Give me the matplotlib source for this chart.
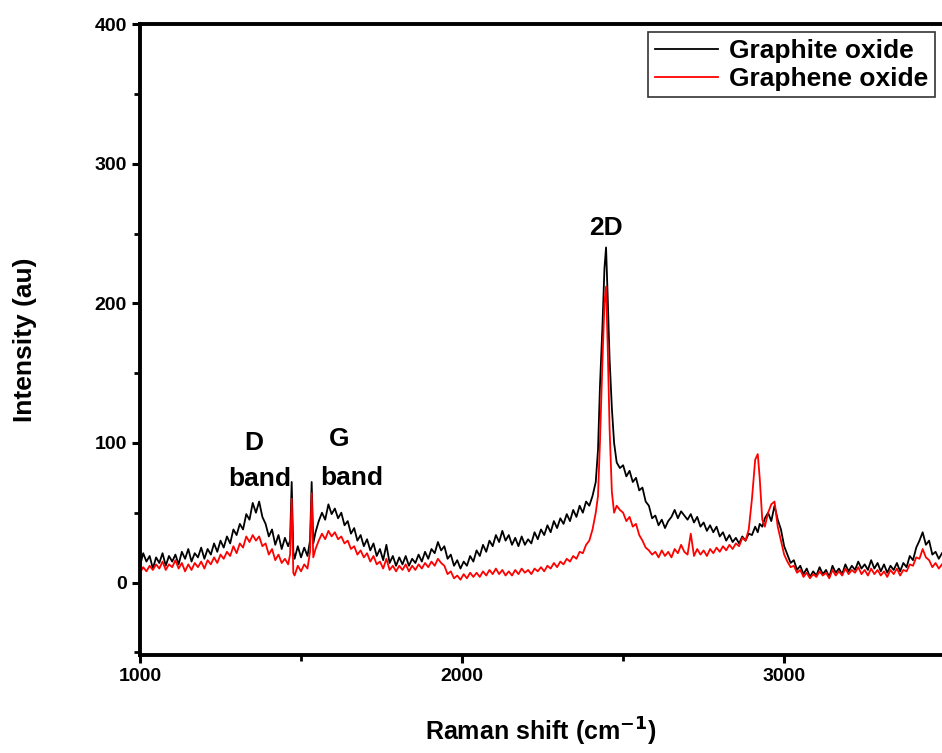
import numpy as np
import matplotlib
matplotlib.use("Agg")
import matplotlib.pyplot as plt
from matplotlib.ticker import MultipleLocator

plt.rcParams['font.family'] = ['Liberation Sans', 'DejaVu Sans']

# Raman shift (cm-1) grid
# (finer steps near the sharp peaks)
shift = (list(range(1000, 1461, 10))
         + [1466, 1471, 1476, 1480, 1490, 1500, 1510, 1520, 1528, 1533, 1538]
         + list(range(1545, 2416, 10))
         + [2422, 2428, 2436, 2442, 2447, 2452, 2458, 2465, 2472, 2480, 2490]
         + list(range(2500, 2891, 10))
         + [2900, 2910, 2918, 2924, 2932, 2940, 2950, 2960]
         + list(range(2970, 3491, 10)))

graphite_oxide = [
    12, 21, 15, 19, 10, 18, 14, 21, 12, 19,
    15, 20, 13, 22, 17, 24, 15, 21, 18, 25,
    17, 24, 20, 28, 22, 30, 25, 33, 28, 38,
    34, 42, 38, 49, 45, 57, 50, 58, 47, 42,
    33, 38, 27, 34, 24, 32, 26,
    30, 72, 22, 17, 26, 18, 25, 19, 30, 72, 28,
    36, 44, 50, 45, 56, 49, 53, 46, 50, 41,
    44, 35, 39, 30, 34, 26, 31, 23, 28, 19,
    24, 16, 27, 14, 19, 12, 18, 13, 19, 12,
    17, 14, 20, 15, 22, 17, 24, 21, 29, 23,
    26, 17, 20, 12, 16, 10, 15, 12, 19, 15,
    23, 19, 27, 22, 30, 26, 34, 29, 37, 30,
    34, 27, 32, 26, 33, 27, 31, 28, 36, 31,
    38, 34, 41, 36, 44, 39, 46, 42, 49, 44,
    52, 47, 55, 50, 58, 55, 62, 72,
    95, 140, 185, 225, 240, 205, 160, 125, 100, 86, 82,
    84, 76, 80, 72, 75, 66, 68, 58, 55, 46,
    48, 41, 45, 39, 44, 47, 52, 46, 51, 48,
    45, 49, 43, 47, 40, 43, 37, 41, 36, 40,
    33, 36, 30, 34, 29, 32, 28, 33, 30, 35,
    34, 40, 36, 42, 40, 46, 50, 44,
    55, 45, 38, 26, 20, 14, 16, 9, 12, 6,
    10, 4, 8, 5, 11, 6, 9, 4, 12, 7,
    10, 6, 13, 8, 12, 9, 15, 10, 13, 9,
    16, 10, 14, 8, 13, 7, 12, 9, 14, 8,
    14, 11, 19, 16, 25, 30, 36, 27, 30, 20,
    22, 17, 21]

graphene_oxide = [
    7, 11, 8, 12, 9, 13, 10, 15, 9, 13,
    11, 16, 10, 14, 8, 13, 9, 14, 11, 15,
    10, 16, 13, 18, 14, 20, 17, 22, 19, 26,
    21, 28, 25, 33, 29, 34, 30, 33, 26, 28,
    20, 24, 16, 20, 14, 17, 13,
    20, 60, 7, 5, 12, 8, 13, 10, 22, 64, 18,
    24, 30, 35, 31, 37, 33, 36, 31, 33, 28,
    30, 24, 26, 20, 23, 18, 21, 15, 19, 13,
    15, 10, 17, 9, 12, 8, 12, 9, 13, 8,
    12, 9, 13, 10, 14, 11, 15, 12, 17, 14,
    12, 6, 8, 3, 5, 2, 6, 3, 7, 4,
    7, 4, 8, 5, 9, 6, 10, 6, 9, 5,
    8, 5, 9, 6, 10, 7, 9, 6, 10, 8,
    11, 8, 12, 10, 14, 11, 15, 13, 17, 15,
    19, 17, 22, 21, 27, 30, 38, 50,
    62, 100, 160, 200, 212, 170, 110, 65, 50, 55, 52,
    50, 44, 47, 40, 42, 34, 30, 25, 23, 20,
    22, 18, 23, 19, 22, 18, 24, 21, 27, 22,
    20, 35, 19, 24, 20, 23, 19, 24, 21, 25,
    22, 26, 23, 27, 24, 28, 26, 32, 30, 38,
    60, 88, 92, 75, 45, 40, 50, 56,
    58, 40, 30, 20, 15, 11, 12, 7, 9, 4,
    7, 3, 6, 4, 8, 5, 7, 3, 9, 5,
    8, 5, 10, 6, 9, 7, 11, 6, 9, 5,
    10, 6, 9, 5, 8, 4, 9, 6, 10, 5,
    9, 8, 13, 12, 18, 17, 24, 18, 16, 11,
    14, 10, 13]

fig = plt.figure(figsize=(9.42, 7.53), dpi=100)
ax = fig.add_axes([0.1486, 0.130, 1 - 0.1486, 0.838])

ax.plot(shift, graphite_oxide, color='black', lw=1.3, label='Graphite oxide')
ax.plot(shift, graphene_oxide, color='red', lw=1.3, label='Graphene oxide')

ax.set_xlim(1000, 3490)
ax.set_ylim(-52, 400)

ax.xaxis.set_major_locator(MultipleLocator(1000))
ax.xaxis.set_minor_locator(MultipleLocator(500))
ax.yaxis.set_major_locator(MultipleLocator(100))
ax.yaxis.set_minor_locator(MultipleLocator(50))

for s in ['left', 'bottom', 'top']:
    ax.spines[s].set_linewidth(2.8)
ax.spines['right'].set_visible(False)

ax.tick_params(which='major', direction='out', length=6, width=2.2, labelsize=14)
ax.tick_params(which='minor', direction='out', length=4, width=2)
for lab in ax.get_xticklabels() + ax.get_yticklabels():
    lab.set_fontweight('bold')

ax.set_xlabel('Raman shift (cm$^{\\mathbf{-1}}$)', fontsize=18, fontweight='bold')
ax.set_ylabel('Intensity (au)', fontsize=19, fontweight='bold')
ax.xaxis.set_label_coords(0.5, -0.096)
ax.yaxis.set_label_coords(-0.128, 0.5)

ax.text(1353, 100, 'D', fontsize=19, fontweight='bold', ha='center', va='center')
ax.text(1372, 74, 'band', fontsize=19, fontweight='bold', ha='center', va='center')
ax.text(1619, 103, 'G', fontsize=19, fontweight='bold', ha='center', va='center')
ax.text(1656, 75, 'band', fontsize=19, fontweight='bold', ha='center', va='center')
ax.text(2446, 254, '2D', fontsize=19, fontweight='bold', ha='center', va='center')

leg = ax.legend(loc='upper right', bbox_to_anchor=(0.991, 0.987),
                prop={'weight': 'bold', 'size': 19}, fancybox=False, framealpha=1,
                edgecolor='#333333', handlelength=2.4, handletextpad=0.4,
                borderpad=0.25, labelspacing=0.15, borderaxespad=0)
leg.get_frame().set_linewidth(1.2)

fig.savefig('out.png', dpi=100)
